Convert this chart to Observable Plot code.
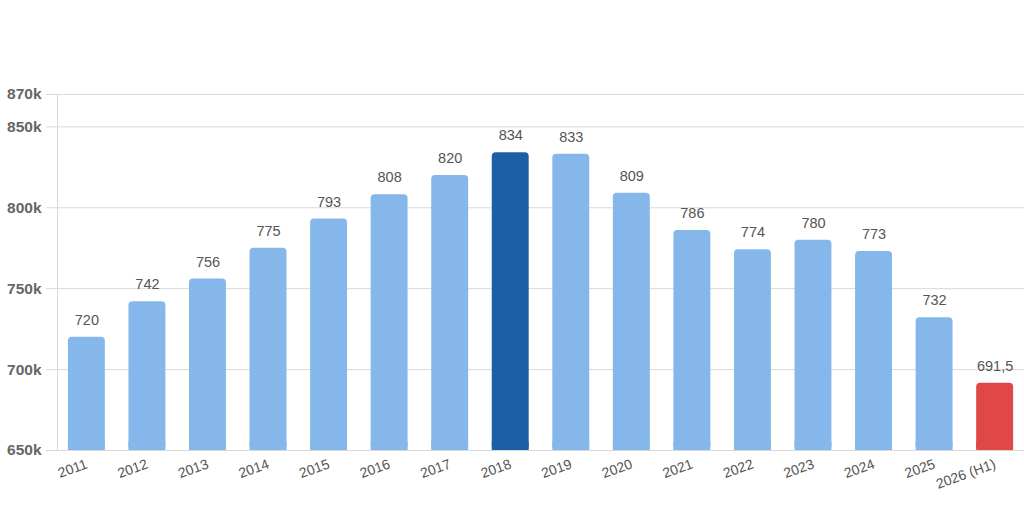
<!DOCTYPE html>
<html>
<head>
<meta charset="utf-8">
<script src="https://cdn.jsdelivr.net/npm/d3@7"></script>
<script src="https://cdn.jsdelivr.net/npm/@observablehq/plot@0.6"></script>
<style>
  html, body { margin: 0; padding: 0; background: #fff; }
  #chart { width: 1024px; height: 509px; }
  svg { font-family: "Liberation Sans", Arial, sans-serif; }
</style>
</head>
<body>
<div id="chart"></div>
<script>
const years = ["2011","2012","2013","2014","2015","2016","2017","2018","2019","2020","2021","2022","2023","2024","2025","2026 (H1)"];
const values = [720,742,756,775,793,808,820,834,833,809,786,774,780,773,732,691.5];
const valueLabels = ["720","742","756","775","793","808","820","834","833","809","786","774","780","773","732","691,5"];
const groups = ["normal","normal","normal","normal","normal","normal","normal","peak","normal","normal","normal","normal","normal","normal","normal","current"];
const yTicks = [650,700,750,800,850,870];
const baseline = 650;

const data = years.map((y, i) => ({year: y, value: values[i], label: valueLabels[i], group: groups[i]}));

const chart = Plot.plot({
  width: 1024,
  height: 509,
  marginTop: 94,
  marginBottom: 59,
  marginLeft: 57,
  marginRight: 0,
  style: {fontFamily: '"Liberation Sans", Arial, sans-serif', background: "#fff"},
  x: {domain: years, paddingInner: 0.39, paddingOuter: 0.18, round: false, label: null},
  y: {domain: [650, 870], label: null},
  color: {domain: ["normal","peak","current"], range: ["#86B7EA","#1B60A5","#E04848"]},
  marks: [
    Plot.gridY(yTicks, {stroke: "#d9d9d9", strokeOpacity: 1}),
    Plot.frame({anchor: "left", stroke: "#d9d9d9"}),
    Plot.barY(data, {x: "year", y1: baseline, y2: "value", fill: "group", rx: 4}),
    Plot.barY(data, {x: "year", y1: baseline, y2: d => Math.min(d.value, baseline + 5), fill: "group"}),
    Plot.text(data, {x: "year", y: "value", text: "label", dy: -17, fontSize: 14.5, fill: "#555", fontWeight: 500}),
    Plot.axisY(yTicks, {tickFormat: d => d + "k", tickSize: 11, stroke: "#d9d9d9", tickPadding: 5, fontSize: 15.5, fontWeight: "bold", fill: "#666", label: null}),
    Plot.axisX({tickSize: 0, tickRotate: -20, tickPadding: 13, fontSize: 14, fill: "#555", label: null})
  ]
});
document.getElementById("chart").appendChild(chart);
</script>
</body>
</html>
